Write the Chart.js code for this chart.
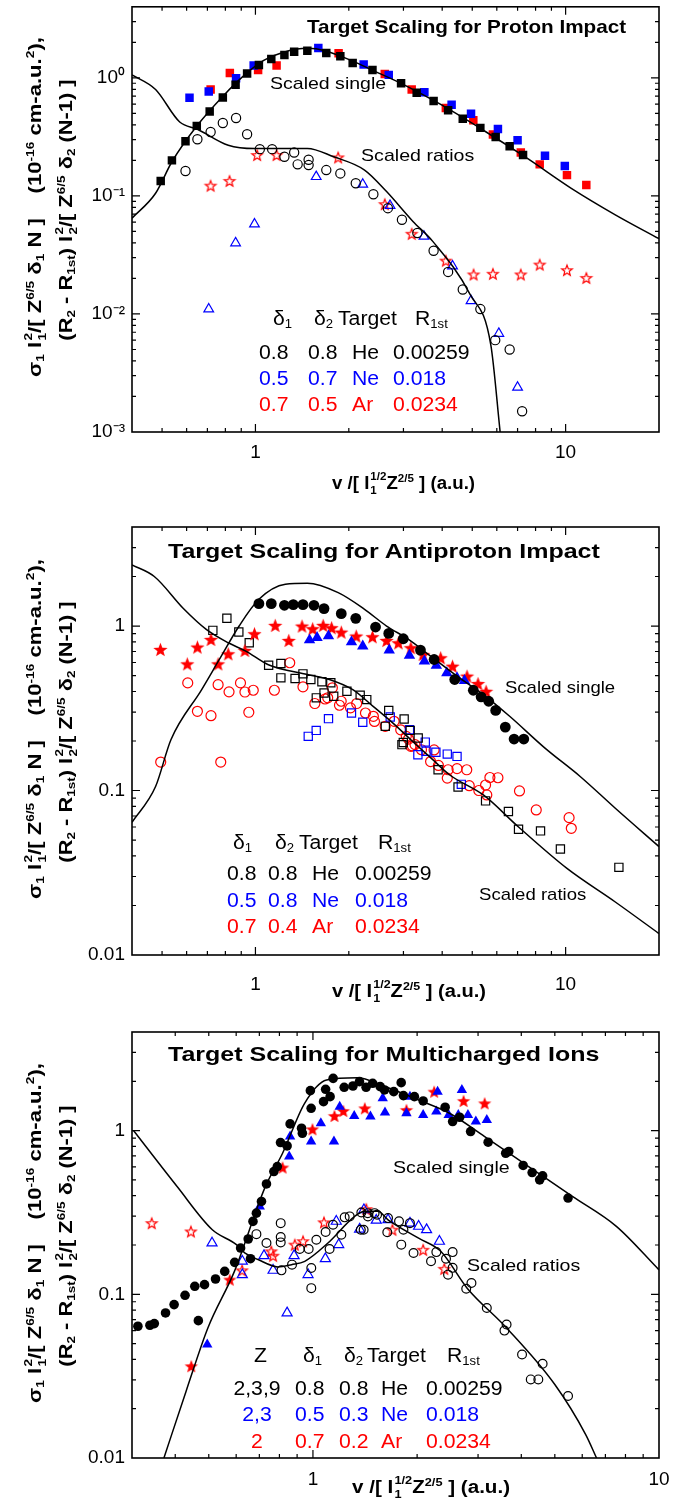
<!DOCTYPE html>
<html>
<head>
<meta charset="utf-8">
<title>Target Scaling</title>
<script src="https://cdn.jsdelivr.net/npm/chart.js"></script>
<style>
  html, body { margin: 0; padding: 0; background: #fff; }
  body { position: relative; width: 690px; height: 1502px; overflow: hidden; font-family: "Liberation Sans", Arial, sans-serif; color: #000; }
  canvas { position: absolute; left: 0; }
  .t { position: absolute; white-space: nowrap; line-height: 1.15; }
  .b { font-weight: bold; }
  .yt { position: absolute; white-space: nowrap; font-weight: bold; line-height: 1.15; transform-origin: 50% 50%; }
  sub, sup { font-size: .62em; line-height: 0; }
  sub { vertical-align: -.3em; }
  sup { vertical-align: .62em; }
  .st { display: inline-flex; flex-direction: column; font-size: .62em; line-height: 1.25; vertical-align: middle; margin-left: 1px; }
</style>
</head>
<body>
<canvas id="c1" width="690" height="500" style="top:0"></canvas>
<canvas id="c2" width="690" height="500" style="top:500px"></canvas>
<canvas id="c3" width="690" height="502" style="top:1000px"></canvas>
<script>
// ticks dos eixos
const xTicks = [1, 10];
const xTickLabels = ['1', '10'];
const p1YTicks = [0.001, 0.01, 0.1, 1];
const p1YTickLabels = ['10\u207B\u00B3', '10\u207B\u00B2', '10\u207B\u00B9', '10\u2070'];
const p23YTicks = [0.01, 0.1, 1];
const p23YTickLabels = ['0.01', '0.1', '1'];

// === painel 1: proton ===
const p1HeSingle = [[0.495,0.134],[0.538,0.2],[0.595,0.29],[0.647,0.392],[0.712,0.52],[0.785,0.683],[0.863,0.873],[0.94,1.088],[1.026,1.287],[1.125,1.445],[1.24,1.563],[1.333,1.667],[1.47,1.7],[1.692,1.624],[1.878,1.522],[2.058,1.338],[2.384,1.168],[2.948,0.902],[3.31,0.747],[3.753,0.636],[4.18,0.531],[4.66,0.451],[5.31,0.377],[5.95,0.316],[6.6,0.264],[7.29,0.222]];
const p1NeSingle = [[0.613,0.678],[0.707,0.767],[0.866,0.994],[0.987,1.27],[1.595,1.789],[2.233,1.295],[2.69,1.06],[3.505,0.757],[4.29,0.592],[4.955,0.497],[6.05,0.369],[7.0,0.296],[8.58,0.219],[9.94,0.179]];
const p1ArSingle = [[0.717,0.797],[0.827,1.102],[1.02,1.168],[1.17,1.27],[1.854,1.614],[2.612,1.08],[3.19,0.797],[4.11,0.555],[5.04,0.437],[5.83,0.331],[7.17,0.233],[8.25,0.185],[10.1,0.15],[11.66,0.124]];
const p1HeRatio = [[0.595,0.1625],[0.65,0.302],[0.717,0.348],[0.785,0.415],[0.866,0.457],[0.94,0.333],[1.033,0.249],[1.132,0.249],[1.24,0.2145],[1.333,0.233],[1.368,0.185],[1.484,0.1825],[1.484,0.2023],[1.692,0.1656],[1.878,0.155],[2.106,0.128],[2.4,0.1033],[2.673,0.0787],[2.967,0.0628],[3.326,0.0485],[3.753,0.0343],[4.18,0.0227],[4.66,0.0161],[5.31,0.011],[5.93,0.006],[6.6,0.005],[7.24,0.0015]];
const p1NeRatio = [[0.707,0.011],[0.863,0.0399],[0.993,0.0577],[1.57,0.1455],[2.218,0.1254],[2.716,0.0829],[3.494,0.0454],[4.32,0.0254],[4.955,0.0129],[6.09,0.00683],[7.0,0.00239]];
const p1ArRatio = [[0.717,0.1222],[0.825,0.134],[1.013,0.222],[1.17,0.222],[1.848,0.212],[2.612,0.0851],[3.19,0.0478],[4.11,0.0283],[5.05,0.0216],[5.83,0.0219],[7.17,0.0216],[8.25,0.0262],[10.1,0.0235],[11.66,0.0202]];
const p1SingleCurve = [[0.4,0.0648],[0.4765,0.1053],[0.538,0.1947],[0.65,0.3966],[0.79,0.71],[0.931,1.08],[1.06,1.4],[1.249,1.667],[1.47,1.778],[1.676,1.7],[2.04,1.4],[2.4,1.153],[3.016,0.873],[3.917,0.604],[5.43,0.36],[7.53,0.2077],[10.43,0.116],[14.46,0.0692],[20,0.0434]];
const p1RatioCurve = [[0.4,1.06],[0.4765,0.797],[0.57,0.423],[0.65,0.367],[0.817,0.269],[0.993,0.252],[1.47,0.252],[1.788,0.2145],[2.248,0.1656],[2.647,0.1088],[3.22,0.0608],[3.73,0.0412],[4.92,0.01465],[5.74,0.00544],[6.15,0.001]];

// === painel 2: antiproton ===
const p2HeSingle = [[1.026,1.368],[1.125,1.368],[1.24,1.337],[1.324,1.349],[1.423,1.349],[1.544,1.337],[1.664,1.276],[1.891,1.189],[2.106,1.114],[2.439,0.986],[2.69,0.902],[2.997,0.837],[3.404,0.714],[3.767,0.626],[4.39,0.473],[5.04,0.407],[5.34,0.371],[5.65,0.349],[5.95,0.307],[6.39,0.243],[6.82,0.2056],[7.33,0.2056]];
const p2NeSingle = [[1.494,0.822],[1.58,0.849],[1.72,0.869],[2.04,0.799],[2.218,0.755],[2.7,0.714],[3.137,0.663],[3.505,0.612],[3.83,0.575],[4.14,0.519],[4.466,0.484],[4.72,0.466]];
const p2ArSingle = [[0.494,0.721],[0.603,0.589],[0.65,0.745],[0.719,0.829],[0.758,0.589],[0.817,0.678],[0.925,0.711],[0.993,0.898],[1.158,1.01],[1.281,0.818],[1.413,1.0],[1.529,0.963],[1.653,1.01],[1.76,0.977],[1.891,0.919],[2.113,0.869],[2.384,0.861],[2.647,0.818],[2.89,0.791],[3.17,0.738],[3.47,0.672],[3.955,0.641],[4.32,0.57],[4.81,0.496],[5.22,0.447],[5.54,0.401]];
const p2HeRatio = [[0.729,0.941],[0.809,1.114],[0.884,0.919],[0.955,0.791],[1.103,0.578],[1.208,0.592],[1.208,0.484],[1.342,0.48],[1.423,0.512],[1.509,0.473],[1.571,0.366],[1.638,0.458],[1.664,0.392],[1.75,0.452],[1.788,0.374],[1.972,0.401],[2.176,0.38],[2.285,0.357],[2.622,0.2456],[2.69,0.307],[2.967,0.19],[2.997,0.196],[3.016,0.272],[3.155,0.232],[3.348,0.2085],[3.88,0.1337],[4.5,0.105],[5.52,0.0865],[6.54,0.0745],[7.05,0.0581],[8.3,0.0568],[9.62,0.0441],[14.85,0.0341]];
const p2NeRatio = [[1.48,0.2134],[1.57,0.232],[1.72,0.2735],[2.04,0.296],[2.218,0.26],[2.72,0.28],[3.137,0.234],[3.528,0.197],[3.34,0.165],[3.55,0.173],[3.817,0.171],[4.154,0.1665],[4.466,0.1612],[4.61,0.109]];
const p2ArRatio = [[0.495,0.149],[0.605,0.451],[0.65,0.303],[0.719,0.285],[0.758,0.44],[0.773,0.149],[0.822,0.398],[0.895,0.451],[0.925,0.397],[0.952,0.299],[0.984,0.407],[1.151,0.407],[1.29,0.598],[1.423,0.427],[1.554,0.338],[1.676,0.36],[1.71,0.366],[1.77,0.421],[1.866,0.33],[1.89,0.349],[2.025,0.318],[2.12,0.338],[2.263,0.296],[2.4,0.2826],[2.42,0.263],[2.62,0.2456],[2.8,0.2635],[2.94,0.234],[3.064,0.2134],[3.116,0.2056],[3.203,0.187],[3.27,0.19],[3.17,0.1855],[3.43,0.177],[3.767,0.1765],[3.67,0.15],[3.89,0.142],[4.154,0.119],[4.18,0.1337],[4.466,0.1358],[4.8,0.1337],[4.89,0.107],[5.25,0.1],[5.52,0.108],[5.57,0.094],[5.7,0.12],[6.05,0.1196],[7.1,0.0994],[8.04,0.0762],[10.26,0.0684],[10.43,0.0589]];
const p2SingleCurve = [[0.4,0.0641],[0.4765,0.1057],[0.534,0.2037],[0.671,0.411],[0.765,0.626],[0.886,1.0],[1.026,1.454],[1.249,1.795],[1.47,1.82],[1.848,1.596],[2.248,1.264],[2.647,1.0],[3.116,0.829],[3.67,0.656],[4.466,0.496],[5.43,0.383],[6.6,0.2826],[8.58,0.181],[11.14,0.1217],[14.46,0.078],[20,0.0456]];
const p2RatioCurve = [[0.4,2.355],[0.472,2.0],[0.589,1.264],[0.694,0.954],[0.817,0.791],[0.931,0.704],[1.096,0.584],[1.47,0.507],[1.73,0.473],[2.06,0.41],[2.39,0.326],[2.77,0.2576],[3.22,0.198],[3.73,0.154],[4.22,0.1247],[5.43,0.094],[7.05,0.06],[10.1,0.0336],[14.46,0.021],[20,0.0135]];

// === painel 3: ions multicarregados ===
const p3HeSingle = [[0.312,0.0638],[0.338,0.0647],[0.348,0.0662],[0.375,0.0769],[0.397,0.0865],[0.427,0.0986],[0.4556,0.1119],[0.4665,0.069],[0.486,0.1145],[0.523,0.124],[0.556,0.138],[0.594,0.1567],[0.618,0.1916],[0.66,0.165],[0.65,0.2176],[0.671,0.2787],[0.6865,0.313],[0.71,0.369],[0.734,0.472],[0.771,0.562],[0.789,0.603],[0.806,0.845],[0.842,0.806],[0.859,1.098],[0.932,0.963],[0.927,1.033],[0.988,1.368],[0.983,1.753],[1.073,1.502],[1.088,1.787],[1.121,1.611],[1.144,2.084],[1.231,1.838],[1.305,1.872],[1.363,1.99],[1.424,1.838],[1.488,1.944],[1.564,1.856],[1.61,1.77],[1.712,1.729],[1.799,1.962],[1.826,1.635],[1.964,1.611],[2.082,1.517],[2.41,1.388],[2.533,1.135],[2.654,1.206],[2.855,0.986],[3.208,0.849],[3.606,0.727],[3.68,0.745],[4.05,0.612],[4.3,0.554],[4.61,0.529],[4.52,0.5],[5.46,0.387]];
const p3NeSingle = [[0.495,0.0493],[0.702,0.344],[0.854,0.694],[0.859,0.919],[0.988,0.857],[1.054,1.108],[1.15,0.857],[1.195,1.4],[1.316,1.229],[1.466,1.217],[1.591,1.575],[1.615,1.288],[1.863,1.276],[1.907,1.611],[2.082,1.246],[2.292,1.729],[2.273,1.306],[2.467,1.246],[2.63,1.246],[2.694,1.77],[2.805,1.246],[2.956,1.135],[3.18,1.162]];
const p3ArSingle = [[0.445,0.0364],[0.575,0.1229],[0.817,0.595],[0.997,1.019],[1.154,1.229],[1.224,1.318],[1.412,1.368],[1.863,1.337],[2.24,1.729],[2.725,1.517],[3.135,1.468]];
const p3HeRatio = [[0.6865,0.233],[0.734,0.2056],[0.807,0.272],[0.807,0.224],[0.807,0.2075],[0.811,0.14],[0.87,0.1517],[0.916,0.189],[0.972,0.189],[0.989,0.1448],[0.989,0.109],[1.023,0.2154],[1.088,0.24],[1.117,0.189],[1.143,0.266],[1.208,0.231],[1.235,0.295],[1.277,0.299],[1.375,0.248],[1.38,0.316],[1.401,0.248],[1.44,0.313],[1.442,0.299],[1.507,0.313],[1.532,0.306],[1.64,0.2395],[1.648,0.292],[1.773,0.279],[1.8,0.201],[1.826,0.248],[1.907,0.272],[1.953,0.1786],[2.194,0.159],[2.273,0.181],[2.424,0.165],[2.457,0.1318],[2.533,0.145],[2.533,0.181],[2.773,0.108],[2.871,0.1173],[3.18,0.0825],[3.576,0.06],[3.627,0.0653],[4.02,0.0429],[4.26,0.0302],[4.48,0.0302],[4.61,0.0376],[5.46,0.0239]];
const p3NeRatio = [[0.511,0.2056],[0.625,0.159],[0.625,0.1318],[0.722,0.172],[0.767,0.14],[0.842,0.0769],[0.882,0.172],[0.968,0.1318],[1.086,0.165],[1.168,0.279],[1.187,0.201],[1.364,0.25],[1.404,0.328],[1.524,0.283],[1.648,0.285],[1.907,0.272],[2.02,0.26],[2.13,0.248],[2.32,0.2106]];
const p3ArRatio = [[0.342,0.272],[0.444,0.242],[0.624,0.14],[0.758,0.183],[0.767,0.172],[0.886,0.201],[0.936,0.211],[1.076,0.275],[1.426,0.331],[1.697,0.248],[2.082,0.187],[2.396,0.143]];
const p3SingleCurve = [[0.371,0.01],[0.43,0.0256],[0.497,0.0623],[0.593,0.138],[0.727,0.45],[0.817,0.727],[0.946,1.468],[1.095,2.037],[1.344,2.105],[1.6,1.872],[2.02,1.538],[2.481,1.276],[3.135,0.919],[4.2,0.603],[5.62,0.396],[7.53,0.26],[10,0.141]];
const p3RatioCurve = [[0.303,1.0],[0.405,0.455],[0.512,0.248],[0.601,0.201],[0.635,0.179],[0.694,0.163],[0.793,0.147],[0.867,0.1517],[0.947,0.159],[1.105,0.2056],[1.32,0.299],[1.41,0.321],[1.54,0.321],[1.648,0.285],[2.02,0.22],[2.34,0.183],[2.79,0.109],[3.627,0.0623],[5.0,0.0281],[6.14,0.0139],[6.6,0.01]];

const BLACK = '#000000', BLUE = '#0000ff', RED = '#ff0000';

// estrela de 5 pontas (o 'star' do Chart.js é um asterisco)
function starImg(color, filled, R) {
  const c = document.createElement('canvas');
  const s = Math.ceil(R * 2 + 4);
  c.width = c.height = s;
  const g = c.getContext('2d');
  g.translate(s / 2, s / 2 + R * 0.1);
  g.beginPath();
  for (let i = 0; i < 10; i++) {
    const r = i % 2 ? R * 0.42 : R;
    const a = -Math.PI / 2 + i * Math.PI / 5;
    g.lineTo(r * Math.cos(a), r * Math.sin(a));
  }
  g.closePath();
  if (filled) { g.fillStyle = color; g.fill(); }
  else { g.strokeStyle = color; g.lineWidth = 1.2; g.stroke(); }
  return c;
}

function pts(arr) { return arr.map(([x, y]) => ({ x, y })); }

function dots(arr, style, color, filled, r) {
  return {
    data: pts(arr), showLine: false, pointStyle: style, pointRadius: r,
    borderColor: color, backgroundColor: filled ? color : 'rgba(0,0,0,0)',
    borderWidth: 1.2, pointBorderWidth: filled ? 0 : 1.2
  };
}

function curve(arr) {
  return {
    data: pts(arr), showLine: true, pointRadius: 0, borderColor: BLACK,
    borderWidth: 1.5, cubicInterpolationMode: 'monotone', fill: false
  };
}

// ticks pra dentro nos quatro lados + moldura
function logTicks(min, max) {
  const out = [];
  for (let e = Math.floor(Math.log10(min)); e <= Math.ceil(Math.log10(max)); e++) {
    for (let m = 1; m < 10; m++) {
      const v = m * Math.pow(10, e);
      if (v > min * 1.0001 && v < max * 0.9999) out.push([v, m === 1]);
    }
  }
  return out;
}

const frameTicks = {
  id: 'frameTicks',
  afterDatasetsDraw(chart) {
    const { ctx, chartArea: a } = chart;
    const { x, y } = chart.scales;
    ctx.save();
    ctx.strokeStyle = BLACK;
    ctx.lineWidth = 1.2;
    logTicks(x.min, x.max).forEach(([v, major]) => {
      const p = x.getPixelForValue(v), len = major ? 8 : 4;
      ctx.beginPath();
      ctx.moveTo(p, a.bottom); ctx.lineTo(p, a.bottom - len);
      ctx.moveTo(p, a.top); ctx.lineTo(p, a.top + len);
      ctx.stroke();
    });
    logTicks(y.min, y.max).forEach(([v, major]) => {
      const p = y.getPixelForValue(v), len = major ? 8 : 4;
      ctx.beginPath();
      ctx.moveTo(a.left, p); ctx.lineTo(a.left + len, p);
      ctx.moveTo(a.right, p); ctx.lineTo(a.right - len, p);
      ctx.stroke();
    });
    ctx.lineWidth = 1.6;
    ctx.strokeRect(a.left, a.top, a.right - a.left, a.bottom - a.top);
    ctx.restore();
  }
};

// eixo y com 60px de largura pra não cortar "0.01"
function axis(min, max, ticks, labels, pad, horiz) {
  return {
    type: 'logarithmic', min, max, bounds: 'data',
    grid: { display: false, drawTicks: false },
    border: { display: false },
    ticks: {
      padding: pad, color: BLACK, autoSkip: false, maxRotation: 0,
      font: { size: 19 },
      callback: (v, i) => labels[i]
    },
    afterBuildTicks: s => { s.ticks = ticks.map(value => ({ value })); },
    afterFit: s => {
      if (horiz) s.height = 40; else s.width = 60;
      s.paddingLeft = s.paddingRight = s.paddingTop = s.paddingBottom = 0;
    }
  };
}

function build(id, p) {
  new Chart(document.getElementById(id), {
    type: 'scatter',
    data: { datasets: p.datasets },
    options: {
      responsive: false, animation: false, devicePixelRatio: 1, events: [],
      layout: { padding: p.pad },
      plugins: { legend: { display: false }, tooltip: { enabled: false } },
      scales: {
        x: axis(p.x[0], p.x[1], xTicks, xTickLabels, p.xPad, true),
        y: axis(p.y[0], p.y[1], p.yTicks, p.yLabels, 7, false)
      }
    },
    plugins: [frameTicks]
  });
}

Chart.defaults.font.family = '"Liberation Sans", Arial, sans-serif';
Chart.defaults.color = BLACK;

build('c1', {
  pad: { top: 4, left: 72, right: 31, bottom: 28 }, x: [0.4, 20], y: [0.001, 4],
  yTicks: p1YTicks, yLabels: p1YTickLabels, xPad: 9,
  datasets: [
    curve(p1SingleCurve), curve(p1RatioCurve),
    dots(p1HeSingle, 'rect', BLACK, true, 6),
    dots(p1NeSingle, 'rect', BLUE, true, 6),
    dots(p1ArSingle, 'rect', RED, true, 6),
    dots(p1HeRatio, 'circle', BLACK, false, 4.6),
    dots(p1NeRatio, 'triangle', BLUE, false, 5.6),
    dots(p1ArRatio, starImg(RED, false, 5.6), RED, false, 5)
  ]
});

build('c2', {
  pad: { top: 27, left: 72, right: 31, bottom: 5 }, x: [0.4, 20], y: [0.01, 4],
  yTicks: p23YTicks, yLabels: p23YTickLabels, xPad: 18,
  datasets: [
    curve(p2SingleCurve), curve(p2RatioCurve),
    dots(p2HeSingle, 'circle', BLACK, true, 5.4),
    dots(p2NeSingle, 'triangle', BLUE, true, 6.6),
    dots(p2ArSingle, starImg(RED, true, 7.5), RED, true, 5),
    dots(p2HeRatio, 'rect', BLACK, false, 5.8),
    dots(p2NeRatio, 'rect', BLUE, false, 5.8),
    dots(p2ArRatio, 'circle', RED, false, 5)
  ]
});

build('c3', {
  pad: { top: 32, left: 72, right: 31, bottom: 4 }, x: [0.3, 10], y: [0.01, 4],
  yTicks: p23YTicks, yLabels: p23YTickLabels, xPad: 10,
  datasets: [
    curve(p3SingleCurve), curve(p3RatioCurve),
    dots(p3HeSingle, 'circle', BLACK, true, 4.8),
    dots(p3NeSingle, 'triangle', BLUE, true, 6),
    dots(p3ArSingle, starImg(RED, true, 7), RED, true, 5),
    dots(p3HeRatio, 'circle', BLACK, false, 4.4),
    dots(p3NeRatio, 'triangle', BLUE, false, 5.8),
    dots(p3ArRatio, starImg(RED, false, 5.6), RED, false, 5)
  ]
});

// === textos (html por causa dos sub/sobrescritos) ===
function put(html, x, cy, o) {
  o = o || {};
  const el = document.createElement('div');
  el.className = 't' + (o.bold ? ' b' : '');
  el.innerHTML = html;
  el.style.fontSize = (o.size || 17) + 'px';
  el.style.left = x + 'px';
  el.style.top = cy + 'px';
  if (o.color) el.style.color = o.color;
  document.body.appendChild(el);
  const k = o.w ? o.w / el.offsetWidth : (o.k || 1);
  el.style.transformOrigin = o.center ? '50% 50%' : '0 50%';
  el.style.transform = (o.center ? 'translateX(-50%) ' : '') + 'translateY(-50%) scaleX(' + k + ')';
}

function putY(html, cx, cy, len) {
  const el = document.createElement('div');
  el.className = 'yt';
  el.innerHTML = html;
  el.style.fontSize = '18px';
  el.style.left = cx + 'px';
  el.style.top = cy + 'px';
  document.body.appendChild(el);
  const k = len / el.offsetWidth;
  el.style.transform = 'translate(-50%,-50%) rotate(-90deg) scaleX(' + k + ')';
}

const stack = (a, b) => '<span class="st"><span>' + a + '</span><span>' + b + '</span></span>';
const yLine1 = '\u03C3<sub>1</sub> I' + stack('2', '1') + '/[ Z<sup>6/5</sup> \u03B4<sub>1</sub> N ]&nbsp;&nbsp;&nbsp; (10<sup>-16</sup> cm-a.u.<sup>2</sup>),';
const yLine2 = '(R<sub>2</sub> - R<sub>1st</sub>) I' + stack('2', '2') + '/[ Z<sup>6/5</sup> \u03B4<sub>2</sub> (N-1) ]';
const xTitle = 'v /[ I' + stack('1/2', '1') + 'Z<sup>2/5</sup> ] (a.u.)';
const d1 = '\u03B4<sub>1</sub>', d2 = '\u03B4<sub>2</sub>', r1st = 'R<sub>1st</sub>';
const rowColors = [BLACK, BLUE, RED];

function legendBlock(headY, head, rowY, rowX, rows, zCenter) {
  head.forEach(([h, x]) => put(h, x, headY, { size: 20, k: 1.06 }));
  rows.forEach((r, i) => {
    let cells = r;
    if (zCenter) {
      put(r[0], zCenter, rowY[i], { size: 20, k: 1.06, color: rowColors[i], center: true });
      cells = r.slice(1);
    }
    cells.forEach((c, j) => put(c, rowX[j], rowY[i], { size: 20, k: 1.06, color: rowColors[i] }));
  });
}

// painel 1
put('Target Scaling for Proton Impact', 307, 27, { bold: 1, size: 19, w: 319 });
put('Scaled single', 270, 84, { w: 116 });
put('Scaled ratios', 361, 156, { w: 113 });
legendBlock(318, [[d1, 272.5], [d2, 314.3], ['Target', 337.6], [r1st, 415.4]],
  [352, 378.3, 404.3], [259.3, 307.7, 351.6, 393.4],
  [['0.8', '0.8', 'He', '0.00259'], ['0.5', '0.7', 'Ne', '0.018'], ['0.7', '0.5', 'Ar', '0.0234']]);
put(xTitle, 332, 484, { bold: 1, size: 18, w: 143 });
putY(yLine1, 36, 207, 340);
putY(yLine2, 67, 210, 261);

// painel 2
put('Target Scaling for Antiproton Impact', 168, 551, { bold: 1, size: 21, w: 432 });
put('Scaled single', 504.6, 688, { w: 110 });
put('Scaled ratios', 479, 894.5, { w: 107 });
legendBlock(841.7, [[d1, 233], [d2, 274.7], ['Target', 298.9], [r1st, 378]],
  [873, 899.7, 925.8], [227.3, 268.1, 312.1, 355.2],
  [['0.8', '0.8', 'He', '0.00259'], ['0.5', '0.8', 'Ne', '0.018'], ['0.7', '0.4', 'Ar', '0.0234']]);
put(xTitle, 332, 992, { bold: 1, size: 18, w: 154 });
putY(yLine1, 36, 729, 340);
putY(yLine2, 67, 732, 261);

// painel 3
put('Target Scaling for Multicharged Ions', 168, 1054, { bold: 1, size: 21, w: 432 });
put('Scaled single', 392.5, 1168, { w: 116.5 });
put('Scaled ratios', 467, 1266, { w: 113 });
legendBlock(1354.7, [['Z', 254.1], [d1, 303.3], [d2, 343.7], ['Target', 367], [r1st, 447]],
  [1387.7, 1414.3, 1441.3], [295.4, 338.5, 380.7, 425.5],
  [['2,3,9', '0.8', '0.8', 'He', '0.00259'], ['2,3', '0.5', '0.3', 'Ne', '0.018'], ['2', '0.7', '0.2', 'Ar', '0.0234']], 257);
put(xTitle, 352, 1488, { bold: 1, size: 18, w: 158 });
putY(yLine1, 36, 1233, 340);
putY(yLine2, 67, 1236, 261);
</script>
</body>
</html>
